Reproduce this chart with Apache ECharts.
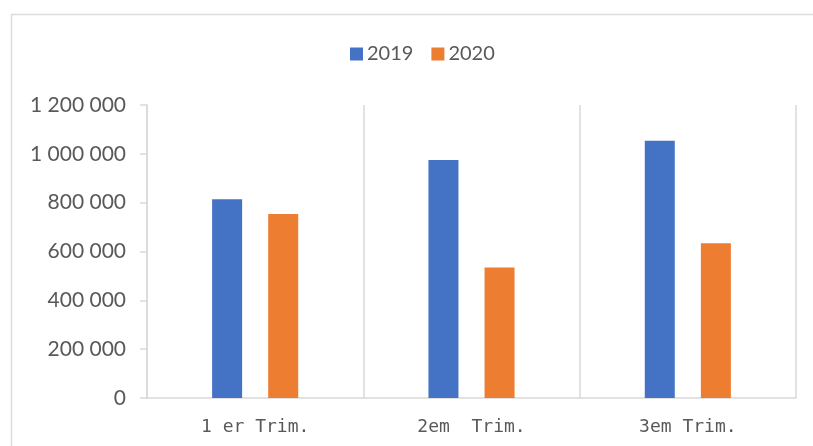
<!DOCTYPE html>
<html>
<head>
<meta charset="utf-8">
<script src="https://cdn.jsdelivr.net/npm/echarts@6/dist/echarts.min.js"></script>
<style>
html,body{margin:0;padding:0;background:#fff;}
#chart{width:813px;height:446px;}
</style>
</head>
<body>
<div id="chart"></div>
<script>
const categories = ['1 er Trim.', '2em  Trim.', '3em Trim.'];
const seriesNames = ['2019', '2020'];
const values2019 = [814000, 975000, 1054000];
const values2020 = [754000, 534000, 634000];
const yTicks = [0, 200000, 400000, 600000, 800000, 1000000, 1200000];

const chart = echarts.init(document.getElementById('chart'), null, {renderer: 'canvas'});
function fmt(v) {
  return String(v).replace(/\B(?=(\d{3})+(?!\d))/g, ' ');
}
const gray = '#595959';
const lineGray = '#d9d9d9';
chart.setOption({
  animation: false,
  backgroundColor: '#ffffff',
  graphic: [{
    type: 'rect',
    shape: {x: 11.5, y: 14.5, width: 900, height: 500},
    style: {fill: 'none', stroke: '#dcdcdc', lineWidth: 1.5},
    silent: true,
    z: -1
  }],
  legend: {
    left: 345,
    top: 39,
    itemWidth: 13,
    itemHeight: 13,
    itemGap: 18,
    icon: 'rect',
    textStyle: {fontFamily: 'Lato', fontSize: 20, color: gray, padding: [0, 0, 0, -1]},
    data: seriesNames
  },
  grid: {left: 147, right: 17, top: 105, bottom: 48, containLabel: false},
  xAxis: {
    type: 'category',
    data: categories,
    boundaryGap: true,
    axisLine: {show: true, lineStyle: {color: lineGray, width: 1.5}},
    axisTick: {show: false},
    splitLine: {show: true, lineStyle: {color: lineGray, width: 1.5}},
    axisLabel: {
      margin: 20,
      fontFamily: 'DejaVu Sans Mono',
      fontSize: 18,
      color: gray
    }
  },
  yAxis: {
    type: 'value',
    min: yTicks[0],
    max: yTicks[yTicks.length - 1],
    interval: yTicks[1] - yTicks[0],
    axisLine: {show: true, lineStyle: {color: lineGray, width: 1.5}},
    axisTick: {show: true, length: 7, lineStyle: {color: lineGray, width: 1.5}},
    splitLine: {show: false},
    axisLabel: {
      margin: 21,
      fontFamily: 'Lato',
      fontSize: 21,
      color: gray,
      formatter: fmt
    }
  },
  series: [
    {name: seriesNames[0], type: 'bar', data: values2019, barWidth: 30, barGap: '87%',
     itemStyle: {color: '#4472C4'}},
    {name: seriesNames[1], type: 'bar', data: values2020, barWidth: 30, barGap: '87%',
     itemStyle: {color: '#ED7D31'}}
  ]
});
</script>
</body>
</html>
